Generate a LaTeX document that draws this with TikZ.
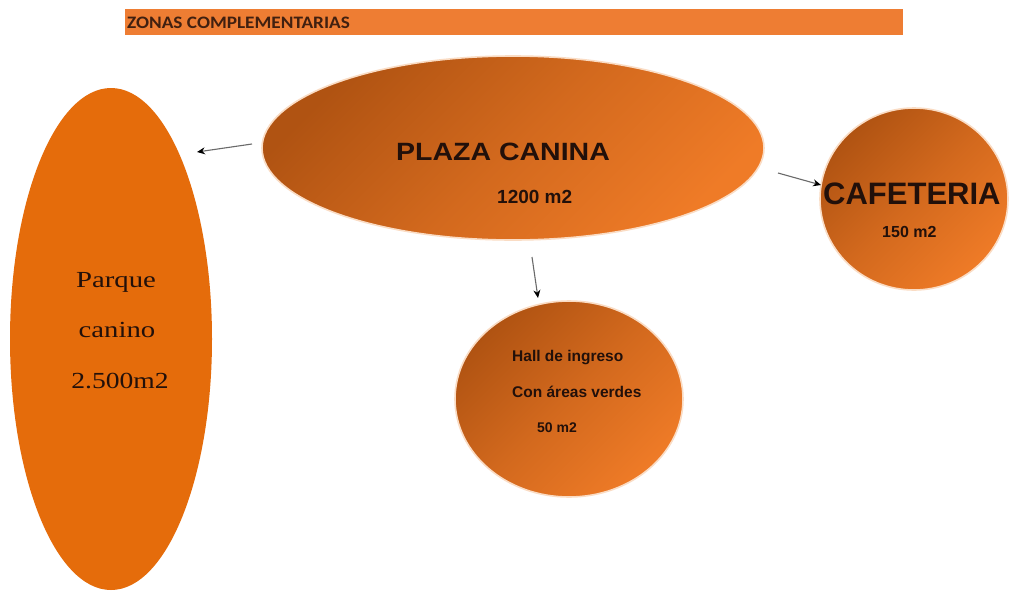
\documentclass[tikz,border=0pt]{standalone}
\usepackage{fontspec}
\setmainfont{Liberation Sans}
\newfontfamily\tmsfont{Liberation Serif}
\newfontfamily\calibfont{Carlito}
\usetikzlibrary{shapes.geometric,arrows.meta}
\definecolor{barc}{HTML}{EE7D33}
\definecolor{parq}{HTML}{E56C0B}
\definecolor{dk}{HTML}{B05312}
\definecolor{lt}{HTML}{EF7B27}
\definecolor{txt}{HTML}{22100A}
\definecolor{halo}{HTML}{FADCC4}
\definecolor{lnc}{HTML}{6A6A6A}
\tikzset{
  zone/.style={ellipse, inner sep=0pt, draw=halo, line width=1.6pt,
    top color=dk, bottom color=lt, middle color=dk!45!lt, shading angle=45},
  lbl/.style={anchor=base west, inner sep=0pt, text=txt},
  conn/.style={draw=lnc, line width=1.1pt, -{Stealth[length=8pt,width=7pt,color=black]}},
}
\begin{document}
\begin{tikzpicture}[x=1pt,y=-1pt]
\useasboundingbox (0,0) rectangle (1012,592);
\fill[white] (0,0) rectangle (1012,592);
% header bar
\node[fill=barc, minimum width=778pt, minimum height=26pt, inner sep=0pt, anchor=north west] (bar) at (125,9) {};
\node[lbl, font=\calibfont\bfseries\fontsize{17.5}{17.5}\selectfont, text=txt!85!barc] (title) at (127,28) {\scalebox{1.1}[1]{ZONAS COMPLEMENTARIAS}};
% shapes
\node[ellipse, fill=parq, minimum width=202pt, minimum height=502pt, inner sep=0pt] (parque) at (111,339) {};
\node[zone, minimum width=502pt, minimum height=184pt] (plaza) at (513,148) {};
\node[zone, minimum width=188pt, minimum height=182pt] (cafe) at (914,199) {};
\node[zone, minimum width=228pt, minimum height=196pt] (hall) at (569,399) {};
% parque text
\node[anchor=base, inner sep=0pt, text=txt, font=\tmsfont\fontsize{23}{23}\selectfont] (p1) at (116,287) {\scalebox{1.25}[1]{Parque}};
\node[anchor=base, inner sep=0pt, text=txt, font=\tmsfont\fontsize{23}{23}\selectfont] (p2) at (117,337) {\scalebox{1.25}[1]{canino}};
\node[anchor=base, inner sep=0pt, text=txt, font=\tmsfont\fontsize{23}{23}\selectfont] (p3) at (120,388) {\scalebox{1.2}[1]{2.500m2}};
% plaza text
\node[lbl, font=\bfseries\fontsize{25}{25}\selectfont] (pl1) at (396,160) {\scalebox{1.14}[1]{PLAZA CANINA}};
\node[lbl, font=\bfseries\fontsize{19}{19}\selectfont] (pl2) at (497,203) {1200 m2};
% cafeteria text
\node[lbl, font=\bfseries\fontsize{31}{31}\selectfont] (c1) at (823,204) {CAFETERIA};
\node[lbl, font=\bfseries\fontsize{16}{16}\selectfont] (c2) at (882,237) {150 m2};
% hall text
\node[lbl, font=\bfseries\fontsize{15.5}{15.5}\selectfont] (h1) at (512,361) {Hall de ingreso};
\node[lbl, font=\bfseries\fontsize{15.5}{15.5}\selectfont] (h2) at (512,397) {Con áreas verdes};
\node[lbl, font=\bfseries\fontsize{14}{14}\selectfont] (h3) at (537,432) {50 m2};
% connectors
\coordinate (a1s) at (252,144);
\coordinate (a1e) at (197,152);
\coordinate (a2s) at (778,173);
\coordinate (a2e) at (821,185);
\coordinate (a3s) at (532,257);
\coordinate (a3e) at (538,298);
\draw[conn] (a1s) -- (a1e);
\draw[conn] (a2s) -- (a2e);
\draw[conn] (a3s) -- (a3e);
\end{tikzpicture}
\end{document}
